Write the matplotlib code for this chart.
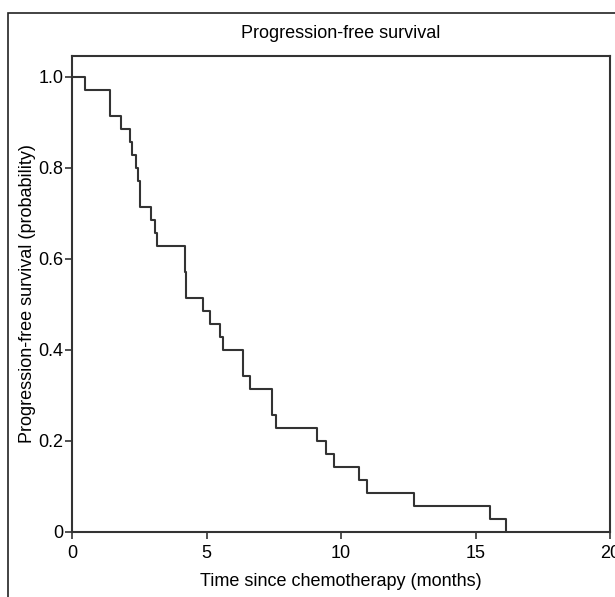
import matplotlib
matplotlib.use("Agg")
import matplotlib.pyplot as plt
from matplotlib.patches import Rectangle

# Kaplan-Meier step data (n = 35)
n_total = 35
event_times = [0.0, 0.48, 1.43, 1.84, 2.15, 2.23, 2.37, 2.46, 2.54, 2.95, 3.07, 3.16,
               4.19, 4.25, 4.86, 5.14, 5.50, 5.60, 6.37, 6.62, 7.42, 7.60, 9.10,
               9.44, 9.73, 10.68, 10.97, 12.72, 15.55, 16.12]
at_risk_after = [35, 34, 32, 31, 30, 29, 28, 27, 25, 24, 23, 22,
                 20, 18, 17, 16, 15, 14, 12, 11, 9, 8, 7,
                 6, 5, 4, 3, 2, 1, 0]
survival = [k / n_total for k in at_risk_after]

x_ticks = [0, 5, 10, 15, 20]
x_ticklabels = ["0", "5", "10", "15", "20"]
y_ticks = [0, 0.2, 0.4, 0.6, 0.8, 1.0]
y_ticklabels = ["0", "0.2", "0.4", "0.6", "0.8", "1.0"]

plt.rcParams['font.family'] = ['Liberation Sans', 'DejaVu Sans']

W, H = 615, 597
fig = plt.figure(figsize=(W / 100, H / 100), dpi=100)
fig.patch.set_facecolor('white')

# outer frame
fig.patches.append(Rectangle((8 / W, -0.1), 1.5, (1 - 13 / H) + 0.1,
                             transform=fig.transFigure, fill=False,
                             lw=1.2, ec='#222222'))

left, right = 72 / W, 610 / W
bottom, top = 1 - 532 / H, 1 - 56 / H
ax = fig.add_axes([left, bottom, right - left, top - bottom])

ax.step(event_times, survival, where='post', color='#333333', lw=1.5)

ax.set_xlim(0, 20)
ax.set_ylim(0, 1.046)
ax.set_xticks(x_ticks)
ax.set_xticklabels(x_ticklabels)
ax.set_yticks(y_ticks)
ax.set_yticklabels(y_ticklabels)
ax.tick_params(axis='both', direction='out', length=5, width=1.2,
               color='#333333', labelsize=13)
ax.tick_params(axis='x', pad=4)
ax.tick_params(axis='y', pad=1)
for s in ax.spines.values():
    s.set_linewidth(1.5)
    s.set_color('#333333')

ax.set_title("Progression-free survival", fontsize=13, pad=13)
ax.set_xlabel("Time since chemotherapy (months)", fontsize=13, labelpad=8)
ax.set_ylabel("Progression-free survival (probability)", fontsize=13, labelpad=2)

fig.savefig("out.png", dpi=100)
